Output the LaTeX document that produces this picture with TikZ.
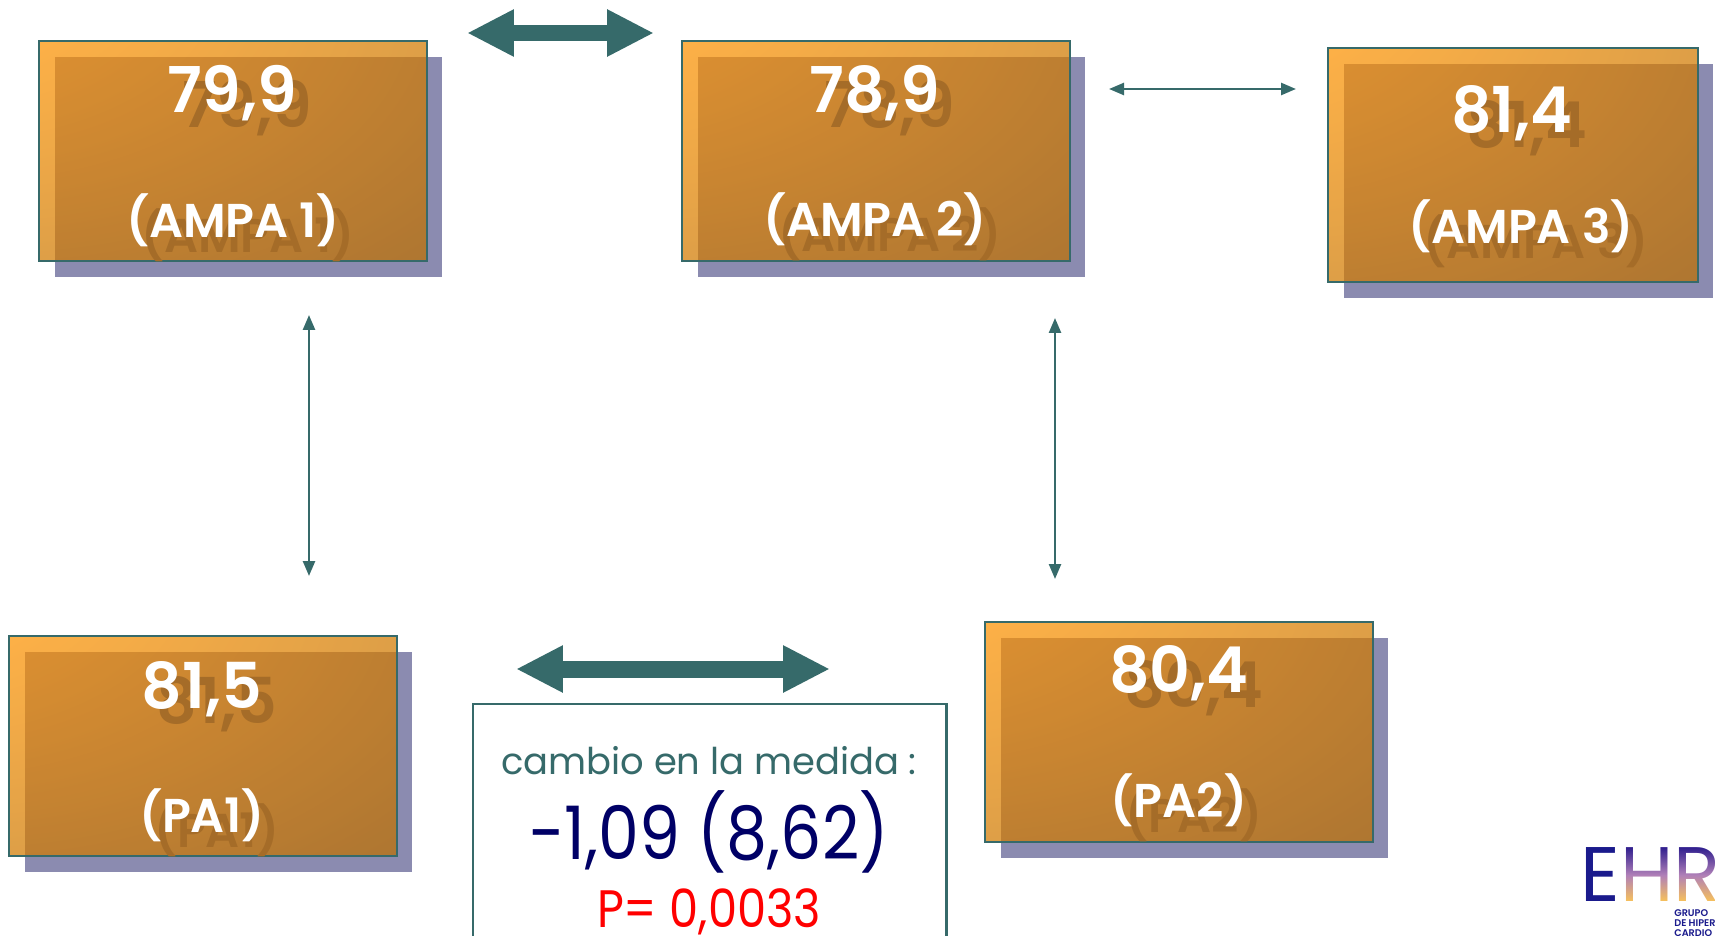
\documentclass[tikz,border=0pt]{standalone}
\usepackage{fontspec}
\setmainfont[BoldFont={Poppins SemiBold}]{Poppins}
\newfontfamily\resultfont[FakeStretch=0.88]{Poppins}
\usetikzlibrary{arrows.meta,shadows}
\definecolor{tealline}{HTML}{366A6A}
\definecolor{boxshadow}{HTML}{8B8BB0}
\definecolor{textshadow}{HTML}{A56C28}
\definecolor{navytext}{HTML}{000066}
\definecolor{logonavy}{HTML}{1A1A8C}
\definecolor{logotop}{HTML}{2A1A8C}
\definecolor{logomid}{HTML}{B080B8}
\definecolor{logoorange}{HTML}{FFC850}
\pgfdeclareradialshading{boxshade}{\pgfpoint{-50bp}{50bp}}{rgb(0bp)=(1,0.58,0); rgb(22bp)=(1,0.58,0); rgb(70bp)=(0.75,0.44,0); rgb(100bp)=(0.66,0.38,0); rgb(150bp)=(0.66,0.38,0)}
\begin{document}
\begin{tikzpicture}[x=0.02cm,y=-0.02cm]
    \tikzset{
      bigarrow/.style={draw=tealline,line width=0.34cm,{Triangle[length=0.94cm,width=0.88cm]}-{Triangle[length=0.94cm,width=0.88cm]}},
      thinarrow/.style={draw=tealline,line width=1.4pt,{Triangle[length=0.3cm,width=0.24cm]}-{Triangle[length=0.3cm,width=0.24cm]}},
      valuebox/.style={draw=tealline,line width=1.2pt,anchor=north west,inner sep=0pt,minimum width=7.76cm,minimum height=4.4cm,shading=boxshade,fill opacity=0.72,drop shadow={shadow xshift=0.31cm,shadow yshift=-0.31cm,fill=boxshadow,opacity=1}},
      valuetext/.style={white,font=\bfseries\fontsize{36}{36}\selectfont},
      nametext/.style={white,font=\bfseries\fontsize{27}{27}\selectfont},
      valueecho/.style={valuetext,textshadow},
      nameecho/.style={nametext,textshadow},
      logoletter/.style={font=\fontsize{44}{44}\selectfont,anchor=west,inner sep=0pt},
      logosmall/.style={logonavy,font=\bfseries\fontsize{5.5}{5.5}\selectfont,anchor=west,inner sep=0pt}
    }
    \useasboundingbox (0,0) rectangle (1715,936);
    \fill[white] (0,0) rectangle (1715,936);
    \coordinate (A1) at (467,33);
    \coordinate (A2) at (654,33);
    \coordinate (B1) at (516,669);
    \coordinate (B2) at (830,669);
    \coordinate (C1) at (1109,89);
    \coordinate (C2) at (1296,89);
    \coordinate (D1) at (309,315);
    \coordinate (D2) at (309,576);
    \coordinate (E1) at (1055,318);
    \coordinate (E2) at (1055,579);
    \node (ampa1) [valuebox] at (38,40) {};
    \node (ampa2) [valuebox] at (681,40) {};
    \node (ampa3) [valuebox,minimum width=7.4cm,minimum height=4.68cm] at (1327,47) {};
    \node (pa1) [valuebox] at (8,635) {};
    \node (pa2) [valuebox] at (984,621) {};
    \node (val1e) [valueecho] at (247,108) {79,9};
    \node (val1) [valuetext] at (232,93) {79,9};
    \node (name1e) [nameecho] at (248,235) {(AMPA 1)};
    \node (name1) [nametext] at (233,220) {(AMPA 1)};
    \node (val2e) [valueecho] at (890,108) {78,9};
    \node (val2) [valuetext] at (875,93) {78,9};
    \node (name2e) [nameecho] at (890,234) {(AMPA 2)};
    \node (name2) [nametext] at (875,219) {(AMPA 2)};
    \node (val3e) [valueecho] at (1527,128) {81,4};
    \node (val3) [valuetext] at (1512,113) {81,4};
    \node (name3e) [nameecho] at (1536,241) {(AMPA 3)};
    \node (name3) [nametext] at (1521,226) {(AMPA 3)};
    \node (val4e) [valueecho] at (217,704) {81,5};
    \node (val4) [valuetext] at (202,689) {81,5};
    \node (name4e) [nameecho] at (217,830) {(PA1)};
    \node (name4) [nametext] at (202,815) {(PA1)};
    \node (val5e) [valueecho] at (1194,688) {80,4};
    \node (val5) [valuetext] at (1179,673) {80,4};
    \node (name5e) [nameecho] at (1194,815) {(PA2)};
    \node (name5) [nametext] at (1179,800) {(PA2)};
    \draw[bigarrow] (A1) -- (A2);
    \draw[bigarrow] (B1) -- (B2);
    \draw[thinarrow] (C1) -- (C2);
    \draw[thinarrow] (D1) -- (D2);
    \draw[thinarrow] (E1) -- (E2);
    \node (result) [draw=tealline,line width=1.2pt,fill=white,anchor=north west,inner sep=0pt,minimum width=9.47cm,minimum height=5cm] at (472,703) {};
    \node (change) [tealline,font=\fontsize{21}{21}\selectfont] at (709,761) {cambio en la medida :};
    \node (mean) [navytext,font=\resultfont\fontsize{42}{42}\selectfont] at (709,832) {-1,09 (8,62)};
    \node (pval) [red,font=\resultfont\fontsize{30}{30}\selectfont] at (709,912) {P= 0,0033};
    % logo
    \node (logoe) [logonavy,logoletter] at (1580,875) {E};
    \node (logoh) [black,logoletter] at (1620,875) {H};
    \node (logor) [black,logoletter] at (1673,875) {R};
    \shade[top color=logotop,bottom color=logoorange,middle color=logomid,blend mode=screen] (1620,846) rectangle (1715,904);
    \node (logo1) [logosmall] at (1674,913) {GRUPO};
    \node (logo2) [logosmall] at (1674,923) {DE HIPER};
    \node (logo3) [logosmall] at (1674,933) {CARDIO};
\end{tikzpicture}
\end{document}
